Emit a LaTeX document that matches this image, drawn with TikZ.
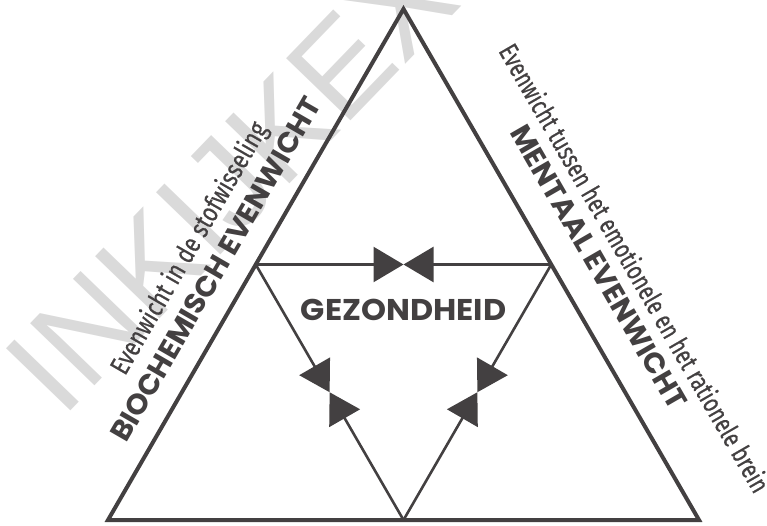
\documentclass[tikz,border=0pt]{standalone}
\usepackage{fontspec}
\usetikzlibrary{arrows.meta,calc}
\newfontfamily\popfont[FakeStretch=1.03]{Poppins}
\newfontfamily\popwide[FakeStretch=1.06]{Poppins}
\newfontfamily\thinfont[FakeStretch=0.8,FakeBold=0.5]{Fira Sans}
\newfontfamily\thinnarrow[FakeStretch=0.755,FakeBold=0.5]{Fira Sans}
\newfontfamily\wmfont{Liberation Sans}
\definecolor{dk}{RGB}{67,64,65}
\definecolor{wm}{RGB}{218,218,218}
\tikzset{
  outer/.style={draw=dk, line width=4pt, line join=miter},
  halfedge/.style={draw=dk, line width=2.6pt, -{Triangle[length=30pt,width=35pt]}},
  bigtitle/.style={text=dk, font=\popfont\bfseries\fontsize{28.6pt}{30pt}\selectfont, inner sep=0pt},
  centretitle/.style={text=dk, font=\popwide\bfseries\fontsize{30pt}{32pt}\selectfont, inner sep=0pt},
  subtitle/.style={text=dk, font=\thinfont\fontsize{27pt}{29pt}\selectfont, inner sep=0pt},
  subtitlenarrow/.style={text=dk, font=\thinnarrow\fontsize{27pt}{29pt}\selectfont, inner sep=0pt},
  watermark/.style={text=wm, font=\wmfont\fontsize{130pt}{136pt}\selectfont, inner sep=0pt}
}
\begin{document}
\begin{tikzpicture}[x=1pt,y=-1pt]
\useasboundingbox (0,0) rectangle (767,526);
% watermark
\node[watermark, anchor=base west, rotate=46] (wmk) at (62,420) {INKIJKEXEMPLAAR};
% outer triangle
\coordinate (A) at (108,520);
\coordinate (B) at (699,520);
\coordinate (C) at (403.5,9);
\draw[outer] (A) -- (B) -- (C) -- cycle;
% inner triangle vertices (midpoints)
\coordinate (L) at ($(A)!0.5!(C)$);
\coordinate (R) at ($(B)!0.5!(C)$);
\coordinate (M) at ($(A)!0.5!(B)$);
\coordinate (LR) at ($(L)!0.5!(R)$);
\coordinate (LM) at ($(L)!0.5!(M)$);
\coordinate (RM) at ($(R)!0.5!(M)$);
\draw[halfedge] (L) -- (LR);
\draw[halfedge] (R) -- (LR);
\draw[halfedge] (L) -- (LM);
\draw[halfedge] (M) -- (LM);
\draw[halfedge] (R) -- (RM);
\draw[halfedge] (M) -- (RM);
% labels
\node[centretitle] (gez) at (403.5,310) {GEZONDHEID};
\node[bigtitle, anchor=base, rotate=60] (bio) at (224.5,274.3) {BIOCHEMISCH EVENWICHT};
\node[subtitle, anchor=base, rotate=60] (biosub) at (196.6,252.5) {Evenwicht in de stofwisseling};
\node[bigtitle, anchor=base, rotate=-60] (men) at (590,272) {MENTAAL EVENWICHT};
\node[subtitlenarrow, anchor=base, rotate=-60] (mensub) at (626.2,272.9) {Evenwicht tussen het emotionele en het rationele brein};
\end{tikzpicture}
\end{document}
